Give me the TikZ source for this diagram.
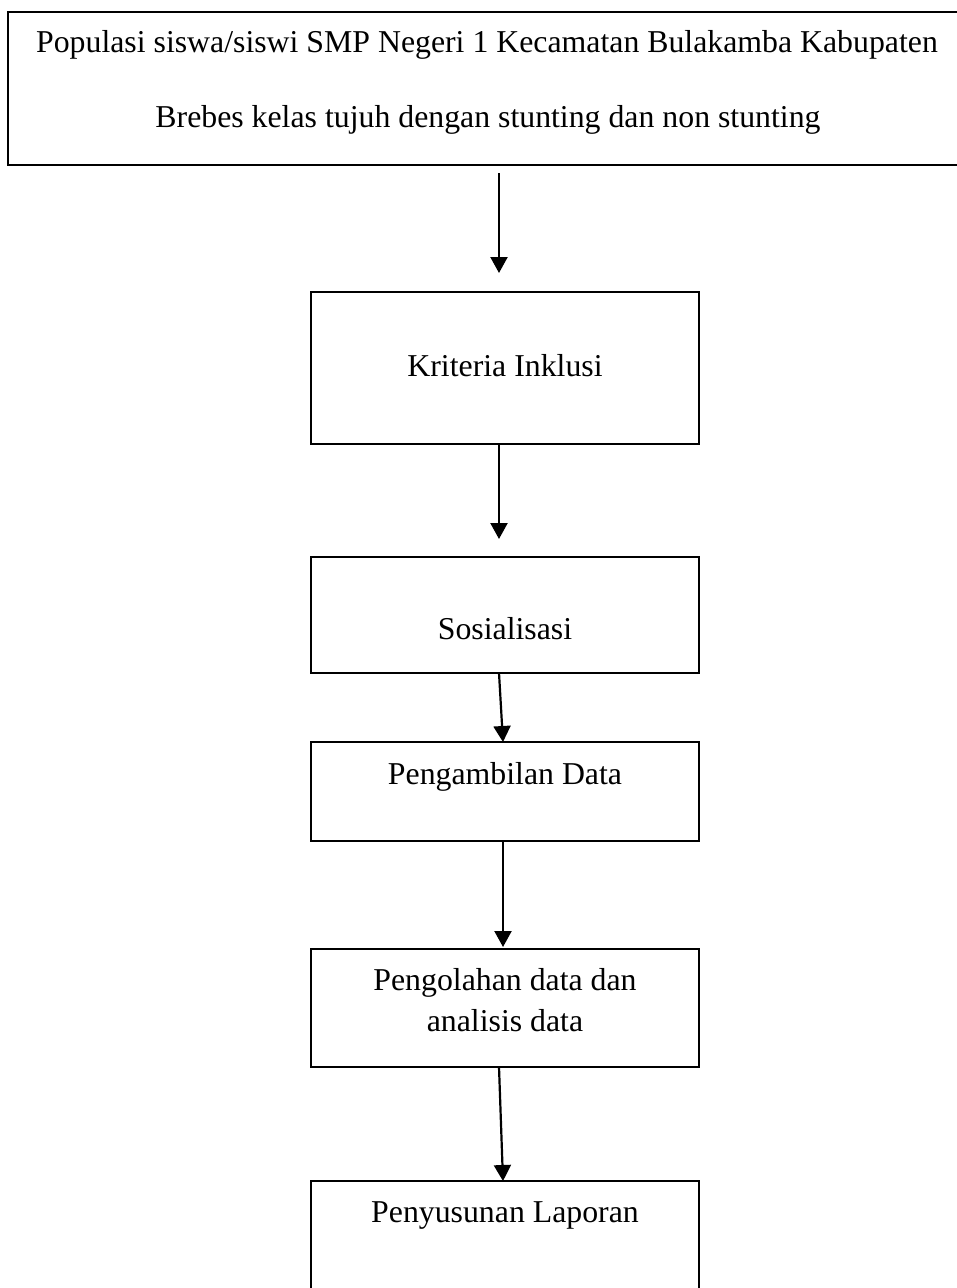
\documentclass[tikz,border=0pt]{standalone}
\usepackage{fontspec}
\setmainfont{Liberation Serif}
\usetikzlibrary{arrows.meta}
\begin{document}
\begin{tikzpicture}[x=1pt,y=-1pt,
  box/.style={draw, line width=1.8pt, minimum width=388pt, inner sep=0pt, outer sep=0pt},
  txt/.style={inner sep=0pt, outer sep=0pt, anchor=base, font=\fontsize{31.8}{36}\selectfont},
  arr/.style={line width=2.2pt, -{Triangle[width=17pt,length=16pt]}}]
\useasboundingbox (0,0) rectangle (957,1288);
\clip (0,0) rectangle (957,1288);
\fill[white] (0,0) rectangle (957,1288);
% boxes
\node[box, minimum width=962pt, minimum height=153pt] (pop) at (489,88.5) {};
\node[box, minimum height=152pt] (b2) at (505,368) {};
\node[box, minimum height=116pt] (b3) at (505,615) {};
\node[box, minimum height=99pt] (b4) at (505,791.5) {};
\node[box, minimum height=118pt] (b5) at (505,1008) {};
\node[box, minimum height=119pt] (b6) at (505,1240.5) {};
% texts
\node[txt] (t1a) at (487,52) {Populasi siswa/siswi SMP Negeri 1 Kecamatan Bulakamba Kabupaten};
\node[txt] (t1b) at (488,127) {Brebes kelas tujuh dengan stunting dan non stunting};
\node[txt] (t2) at (505,376) {Kriteria Inklusi};
\node[txt] (t3) at (505,639) {Sosialisasi};
\node[txt] (t4) at (505,784) {Pengambilan Data};
\node[txt] (t5a) at (505,990) {Pengolahan data dan};
\node[txt] (t5b) at (505,1031) {analisis data};
\node[txt] (t6) at (505,1222) {Penyusunan Laporan};
% arrows
\draw[arr] ([xshift=10pt,yshift=-8pt]pop.south) -- ([xshift=-6pt,yshift=19pt]b2.north);
\draw[arr] ([xshift=-6pt]b2.south) -- ([xshift=-6pt,yshift=18pt]b3.north);
\draw[arr] ([xshift=-6pt]b3.south) -- ([xshift=-2pt]b4.north);
\draw[arr] ([xshift=-2pt]b4.south) -- ([xshift=-2pt,yshift=2pt]b5.north);
\draw[arr] ([xshift=-6pt]b5.south) -- ([xshift=-2pt]b6.north);
\end{tikzpicture}
\end{document}
